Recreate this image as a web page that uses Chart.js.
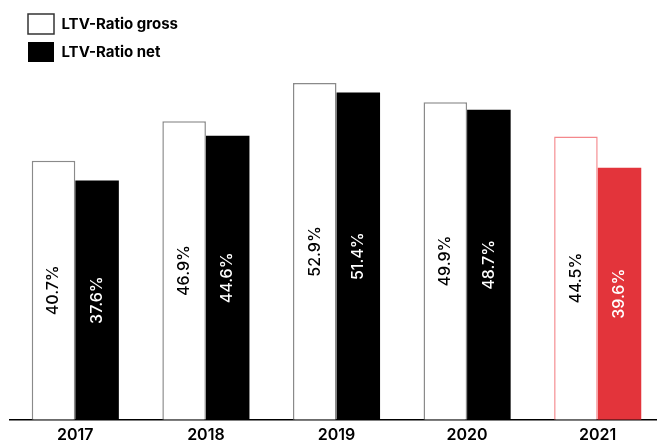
<!DOCTYPE html>
<html>
<head>
<meta charset="utf-8">
<script src="https://cdn.jsdelivr.net/npm/chart.js@4.4.1/dist/chart.umd.min.js"></script>
<style>
  html, body { margin: 0; padding: 0; background: #fff; overflow: hidden; }
</style>
</head>
<body>
<canvas id="myChart" width="670" height="443"></canvas>
<script>
const years = ['2017', '2018', '2019', '2020', '2021'];
const ltvGross = [40.7, 46.9, 52.9, 49.9, 44.5];
const ltvNet = [37.6, 44.6, 51.4, 48.7, 39.6];
const seriesNames = ['LTV-Ratio gross', 'LTV-Ratio net'];

const RED = '#e3343b';
const LIGHT_RED = '#f4888c';
const lastYear = years.length - 1;   // latest year is highlighted in red

// rotated % labels in the middle of every bar (no datalabels plugin offline)
const valueLabels = {
    id: 'valueLabels',
    afterDatasetsDraw(chart) {
        const ctx = chart.ctx;
        chart.data.datasets.forEach((ds, i) => {
            chart.getDatasetMeta(i).data.forEach((bar, j) => {
                const { x, y, base } = bar.getProps(['x', 'y', 'base'], true);
                ctx.save();
                ctx.translate(x, (y + base) / 2);
                ctx.rotate(-Math.PI / 2);
                ctx.font = '500 16px Inter';
                ctx.fillStyle = i === 0 ? '#000' : '#fff';
                ctx.textAlign = 'center';
                ctx.textBaseline = 'middle';
                ctx.fillText(ds.data[j].toFixed(1) + '%', 0, 0);
                ctx.restore();
            });
        });
    }
};

// put the legend in the top left corner
const legendSpot = {
    id: 'legendSpot',
    afterLayout(chart) {
        const lg = chart.legend;
        lg.left = 20;
        lg.top = 6;
        lg.right = lg.left + lg.width;
        lg.bottom = lg.top + lg.height;
    }
};

const data = {
    labels: years,
    datasets: [{
        label: seriesNames[0],
        data: ltvGross,
        backgroundColor: '#fff',
        borderColor: (c) => c.dataIndex === lastYear ? LIGHT_RED : '#8a8a8a',
        borderWidth: { top: 1.5, left: 1.5, right: 1.5, bottom: 0 },
        borderSkipped: 'start'
    }, {
        label: seriesNames[1],
        data: ltvNet,
        backgroundColor: (c) => c.dataIndex === lastYear ? RED : '#000',
        borderWidth: 0
    }]
};

const config = {
    type: 'bar',
    data: data,
    options: {
        responsive: false,
        animation: false,
        categoryPercentage: 0.667,
        barPercentage: 1.0,
        layout: {
            padding: { left: 10, right: 7, top: 6, bottom: -8 }
        },
        scales: {
            x: {
                grid: { display: false, drawTicks: false },
                border: { display: true, color: '#000', width: 1.5 },
                ticks: {
                    color: '#000',
                    padding: 6,
                    font: { family: 'Inter', size: 16, weight: '600' }
                }
            },
            y: {
                display: false,
                min: 0,
                max: 65
            }
        },
        plugins: {
            tooltip: { enabled: false },
            legend: {
                position: 'chartArea',
                align: 'start',
                labels: {
                    boxWidth: 26,
                    boxHeight: 20,
                    padding: 8,
                    color: '#000',
                    font: { family: 'Inter', size: 15, weight: '700' },
                    generateLabels(chart) {
                        const items = Chart.defaults.plugins.legend.labels.generateLabels(chart);
                        items[0].strokeStyle = '#333';
                        items[0].lineWidth = 1.5;
                        return items;
                    }
                }
            }
        }
    },
    plugins: [valueLabels, legendSpot]
};

const context = document.getElementById('myChart').getContext('2d');

const myChart = new Chart(
    context,
    config
);
</script>
</body>
</html>
